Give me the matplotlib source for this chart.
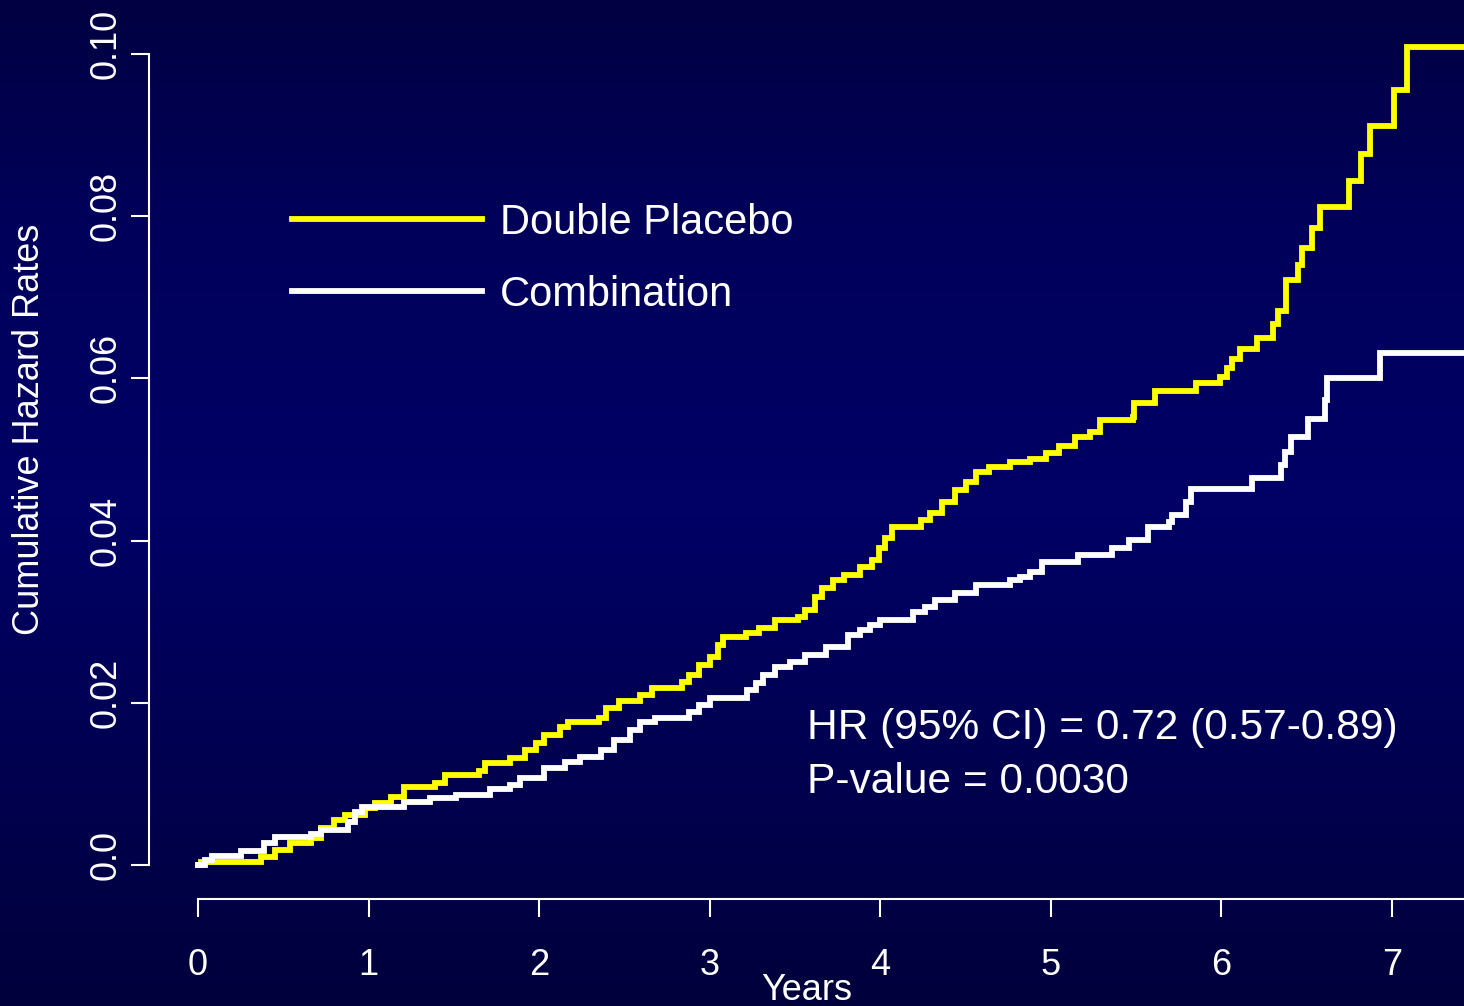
"""Cumulative hazard curves, Double Placebo vs Combination (step plot)."""
import matplotlib
matplotlib.use("Agg")
import matplotlib.pyplot as plt
import matplotlib.transforms as mtrans
import numpy as np
from matplotlib.colors import LinearSegmentedColormap

plt.rcParams["font.family"] = ["Liberation Sans", "DejaVu Sans"]

# --- data (event time in years, cumulative hazard after step)
placebo_t = [0.00, 0.02, 0.37, 0.45, 0.54, 0.66, 0.72, 0.80, 0.86, 0.98, 1.04,
             1.13, 1.21, 1.39, 1.45, 1.65, 1.68, 1.83, 1.92, 1.98, 2.03, 2.12,
             2.17, 2.35, 2.39, 2.47, 2.59, 2.66, 2.84, 2.88, 2.94, 3.00, 3.05,
             3.08, 3.21, 3.29, 3.38, 3.52, 3.56, 3.62, 3.66, 3.72, 3.79, 3.88,
             3.95, 3.99, 4.03, 4.07, 4.24, 4.29, 4.36, 4.44, 4.50, 4.56, 4.64,
             4.76, 4.88, 4.97, 5.05, 5.14, 5.23, 5.29, 5.48, 5.49, 5.61, 5.85,
             5.99, 6.03, 6.06, 6.11, 6.21, 6.30, 6.33, 6.38, 6.45, 6.47, 6.53,
             6.58, 6.75, 6.82, 6.87, 7.01, 7.09, 7.42]
placebo_h = [0.0000, 0.0004, 0.0010, 0.0018, 0.0027, 0.0033, 0.0046, 0.0055,
             0.0062, 0.0070, 0.0076, 0.0084, 0.0096, 0.0101, 0.0111, 0.0116,
             0.0126, 0.0132, 0.0142, 0.0150, 0.0160, 0.0170, 0.0176, 0.0181,
             0.0194, 0.0202, 0.0210, 0.0218, 0.0226, 0.0234, 0.0247, 0.0256,
             0.0271, 0.0281, 0.0286, 0.0292, 0.0302, 0.0306, 0.0314, 0.0330,
             0.0342, 0.0351, 0.0358, 0.0367, 0.0376, 0.0391, 0.0403, 0.0417,
             0.0425, 0.0434, 0.0448, 0.0462, 0.0472, 0.0485, 0.0491, 0.0497,
             0.0501, 0.0508, 0.0517, 0.0528, 0.0534, 0.0549, 0.0552, 0.0570,
             0.0584, 0.0594, 0.0602, 0.0613, 0.0624, 0.0636, 0.0650, 0.0667,
             0.0683, 0.0721, 0.0740, 0.0761, 0.0785, 0.0811, 0.0843, 0.0877,
             0.0911, 0.0956, 0.1009, 0.1009]

combo_t = [0.00, 0.04, 0.08, 0.25, 0.39, 0.45, 0.66, 0.72, 0.88, 0.92, 0.96,
           1.21, 1.36, 1.51, 1.71, 1.83, 1.89, 2.03, 2.15, 2.24, 2.36, 2.44,
           2.53, 2.59, 2.68, 2.88, 2.94, 3.00, 3.22, 3.27, 3.31, 3.38, 3.47,
           3.56, 3.68, 3.81, 3.88, 3.94, 4.00, 4.19, 4.26, 4.32, 4.44, 4.56,
           4.76, 4.82, 4.88, 4.95, 5.16, 5.36, 5.46, 5.57, 5.69, 5.71, 5.79,
           5.82, 6.18, 6.35, 6.37, 6.41, 6.51, 6.61, 6.62, 6.93, 7.42]
combo_h = [0.0000, 0.0006, 0.0011, 0.0017, 0.0027, 0.0035, 0.0038, 0.0043,
           0.0053, 0.0065, 0.0072, 0.0078, 0.0083, 0.0086, 0.0094, 0.0099,
           0.0107, 0.0120, 0.0127, 0.0133, 0.0142, 0.0154, 0.0166, 0.0176,
           0.0181, 0.0189, 0.0197, 0.0206, 0.0216, 0.0224, 0.0234, 0.0244,
           0.0250, 0.0259, 0.0269, 0.0284, 0.0290, 0.0296, 0.0302, 0.0312,
           0.0318, 0.0327, 0.0335, 0.0345, 0.0351, 0.0355, 0.0361, 0.0374,
           0.0382, 0.0391, 0.0401, 0.0417, 0.0423, 0.0432, 0.0448, 0.0464,
           0.0477, 0.0493, 0.0509, 0.0528, 0.0550, 0.0573, 0.0600, 0.0631,
           0.0631]

series_labels = ["Double Placebo", "Combination"]
x_ticks = [0, 1, 2, 3, 4, 5, 6, 7]
y_ticks = [0.0, 0.02, 0.04, 0.06, 0.08, 0.10]
y_tick_labels = ["0.0", "0.02", "0.04", "0.06", "0.08", "0.10"]
hr_text = "HR (95% CI) = 0.72 (0.57-0.89)"
p_text = "P-value = 0.0030"

W, H = 1464, 1006
fig = plt.figure(figsize=(W / 100, H / 100), dpi=100)

# navy vertical gradient behind everything
bg = fig.add_axes([0, 0, 1, 1], zorder=-10)
cmap = LinearSegmentedColormap.from_list(
    "navy", [(0.0, "#00003c"), (0.5, "#000066"), (0.78, "#00005a"), (1.0, "#000042")])
bg.imshow(np.linspace(0, 1, 256).reshape(-1, 1), aspect="auto", cmap=cmap,
          extent=[0, 1, 0, 1], origin="lower")
bg.axis("off")

ax = fig.add_axes([149 / W, 1 - 899 / H, 1 - 149 / W, (899 - 21.6) / H])
ax.patch.set_alpha(0)

ax.step(placebo_t, placebo_h, where="post", color="#ffff00", lw=4.2,
        label=series_labels[0], solid_joinstyle="miter")
ax.step(combo_t, combo_h, where="post", color="white", lw=4.2,
        label=series_labels[1], solid_joinstyle="miter")

ax.set_xlim(-0.287, 7.422)
ax.set_ylim(-0.00419, 0.1040)

for side in ("top", "right"):
    ax.spines[side].set_visible(False)
ax.spines["left"].set_bounds(0, 0.10)
ax.spines["bottom"].set_bounds(0, 7.422)
for side in ("left", "bottom"):
    ax.spines[side].set_color("white")
    ax.spines[side].set_linewidth(1.5)

ax.set_xticks(x_ticks)
ax.set_yticks(y_ticks)
ax.set_yticklabels(y_tick_labels, rotation=90, va="center")
ax.tick_params(colors="white", labelsize=26, length=13, width=1.5)
ax.tick_params(axis="x", pad=22)
ax.tick_params(axis="y", pad=5)
# labels sit a little above their ticks in the reference
shift = mtrans.ScaledTranslation(0, 0.10, fig.dpi_scale_trans)
for lbl in ax.get_yticklabels():
    lbl.set_transform(lbl.get_transform() + shift)

ax.set_xlabel("Years", color="white", fontsize=26, labelpad=-7)
fig.text(30 / W, 1 - 429 / H, "Cumulative Hazard Rates", color="white",
         fontsize=26, rotation=90, ha="center", va="center")

leg = ax.legend(loc="upper left",
                bbox_to_anchor=((292 - 149) / (W - 149), 1 - (203 - 21.6) / (899 - 21.6)),
                frameon=False, fontsize=30, handlelength=4.55, handletextpad=0.45,
                labelspacing=0.76, borderpad=0, borderaxespad=0)
for t in leg.get_texts():
    t.set_color("white")

ax.text(3.57, 0.01690, hr_text, color="white", fontsize=30.6, va="center", ha="left")
ax.text(3.57, 0.0102, p_text, color="white", fontsize=30.6, va="center", ha="left")

fig.savefig("out.png", dpi=100, facecolor="#000050")
